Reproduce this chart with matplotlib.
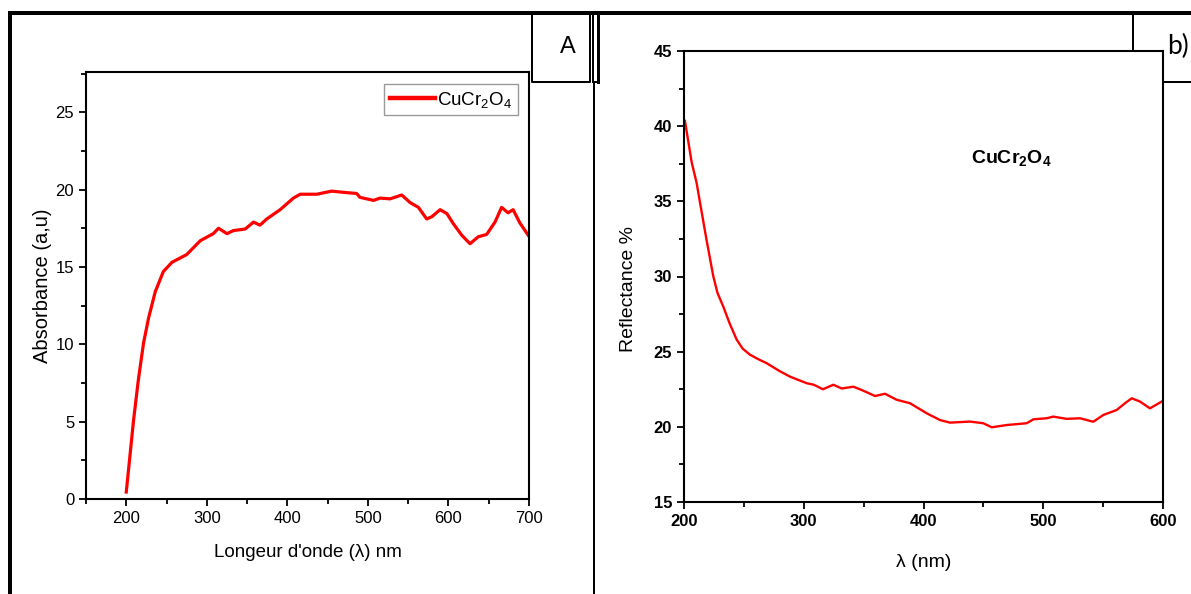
import numpy as np
import matplotlib
matplotlib.use('Agg')
import matplotlib.pyplot as plt
import matplotlib.ticker as ticker

plt.rcParams['font.family'] = ['Liberation Sans', 'DejaVu Sans']
plt.rcParams['mathtext.fontset'] = 'custom'
plt.rcParams['mathtext.rm'] = 'Liberation Sans'
plt.rcParams['mathtext.bf'] = 'Liberation Sans:bold'

# panel A : absorbance
abs_wl = [200, 209, 215, 221.5, 227.7, 236, 246, 256.7, 275, 292, 308, 314.5, 325, 333,
          347.6, 358, 366, 374.4, 391, 407.5, 416, 436.6, 455, 474, 486, 490, 507, 515,
          527.5, 542, 552.6, 562.7, 573, 579.5, 589.6, 598, 606, 616.5, 626.8, 637, 647.4,
          657.8, 666, 674, 680.3, 688.6, 699]
abs_val = [0.45, 5.07, 7.7, 10.1, 11.7, 13.4, 14.7, 15.3, 15.8, 16.7, 17.15, 17.5, 17.15, 17.35,
           17.45, 17.9, 17.7, 18.1, 18.7, 19.45, 19.7, 19.7, 19.9, 19.8, 19.75, 19.5, 19.3, 19.45,
           19.4, 19.65, 19.15, 18.85, 18.1, 18.25, 18.7, 18.45, 17.8, 17.05, 16.5, 16.95, 17.1,
           17.9, 18.85, 18.5, 18.7, 17.85, 17.05]

# panel b : reflectance
ref_wl = [200.8, 206.4, 210.6, 213.4, 218.9, 224.5, 228, 232.8, 238, 244, 249, 255.1, 262,
          269.1, 280, 288.5, 302.5, 308.4, 316, 324.7, 331.7, 341.4, 348.4, 359.5, 367.8,
          377.6, 388.7, 402.7, 413.8, 422.1, 438.8, 449.9, 457, 469.5, 486.2, 491.7, 502.9,
          508.4, 519.6, 530.7, 541.8, 550.2, 561.3, 568.3, 573.9, 580.8, 589.1, 598.9]
ref_val = [40.35, 37.6, 36.2, 34.9, 32.4, 30.0, 28.9, 28.0, 26.9, 25.8, 25.2, 24.8, 24.5,
           24.23, 23.7, 23.34, 22.9, 22.8, 22.5, 22.8, 22.55, 22.67, 22.45, 22.05, 22.2,
           21.8, 21.57, 20.9, 20.45, 20.28, 20.35, 20.24, 19.97, 20.12, 20.24, 20.5, 20.57,
           20.68, 20.53, 20.57, 20.34, 20.79, 21.12, 21.57, 21.9, 21.68, 21.23, 21.68]

W, H = 1191, 594
fig = plt.figure(figsize=(W / 100, H / 100), dpi=100)

# background layer in pixel coords for the frames
bg = fig.add_axes([0, 0, 1, 1], zorder=0)
bg.set_xlim(0, W)
bg.set_ylim(H, 0)
bg.axis('off')
px = 72 / 100
bg.plot([8, W], [13, 13], color='k', lw=4 * px, solid_capstyle='butt')
bg.plot([10, 10], [11, H], color='k', lw=4 * px, solid_capstyle='butt')
bg.plot([594, 594], [82, H], color='k', lw=2 * px)
bg.plot([592.5, 592.5], [15, 82], color='k', lw=2 * px)
bg.plot([597.5, 597.5], [15, 82], color='k', lw=3 * px)
bg.plot([532, 532, 590, 590], [15, 82, 82, 15], color='k', lw=2 * px)
bg.plot([592.5, 597.5], [82, 82], color='k', lw=2 * px)
bg.plot([1133, 1133, W], [15, 82, 82], color='k', lw=2 * px)
bg.text(568, 47, 'A', ha='center', va='center', fontsize=17)
bg.text(1178, 46, 'b)', ha='center', va='center', fontsize=19, family=['Lato', 'DejaVu Sans'])


def style_axes(ax, bold=False):
    for s in ax.spines.values():
        s.set_linewidth(1.5)
    ax.tick_params(which='both', direction='out', width=1.3, top=False, right=False)
    ax.tick_params(which='major', length=5, labelsize=12)
    ax.tick_params(which='minor', length=3.5)
    if bold:
        for lab in ax.get_xticklabels() + ax.get_yticklabels():
            lab.set_fontweight('bold')


# left panel
ax1 = fig.add_axes([86 / W, 1 - 499 / H, 443 / W, 427 / H], zorder=2)
ax1.plot(abs_wl, abs_val, color='#ff0000', lw=2.3, label=r'$\mathrm{CuCr_2O_4}$')
ax1.set_xlim(150, 700)
ax1.set_ylim(0, 27.6)
ax1.xaxis.set_major_locator(ticker.FixedLocator([200, 300, 400, 500, 600, 700]))
ax1.xaxis.set_minor_locator(ticker.MultipleLocator(50))
ax1.yaxis.set_major_locator(ticker.MultipleLocator(5))
ax1.yaxis.set_minor_locator(ticker.MultipleLocator(2.5))
style_axes(ax1)
ax1.set_xlabel("Longeur d'onde (λ) nm", fontsize=13.5)
ax1.set_ylabel('Absorbance (a,u)', fontsize=14.5)
ax1.xaxis.set_label_coords(0.5, -0.105)
ax1.yaxis.set_label_coords(-0.077, 0.5)
leg = ax1.legend(loc='upper right', bbox_to_anchor=(0.975, 0.972), borderaxespad=0,
                 fancybox=False, edgecolor='#808080', fontsize=13.5, handlelength=2.4,
                 handletextpad=0.1, borderpad=0.3)
leg.get_frame().set_linewidth(1)
leg.get_lines()[0].set_linewidth(3.2)

# right panel
ax2 = fig.add_axes([684 / W, 1 - 502 / H, 479 / W, 451 / H], zorder=2)
ax2.plot(ref_wl, ref_val, color='#ff0000', lw=1.7)
ax2.set_xlim(200, 600)
ax2.set_ylim(15, 45)
ax2.xaxis.set_major_locator(ticker.MultipleLocator(100))
ax2.xaxis.set_minor_locator(ticker.MultipleLocator(50))
ax2.yaxis.set_major_locator(ticker.MultipleLocator(5))
ax2.yaxis.set_minor_locator(ticker.MultipleLocator(2.5))
style_axes(ax2, bold=True)
ax2.set_xlabel('λ (nm)', fontsize=14)
ax2.set_ylabel('Reflectance %', fontsize=14)
ax2.xaxis.set_label_coords(0.5, -0.115)
ax2.yaxis.set_label_coords(-0.098, 0.472)
ax2.text(0.683, 0.763, r'$\mathbf{CuCr_2O_4}$', transform=ax2.transAxes,
         ha='center', va='center', fontsize=14)

fig.savefig('out.png', dpi=100)
